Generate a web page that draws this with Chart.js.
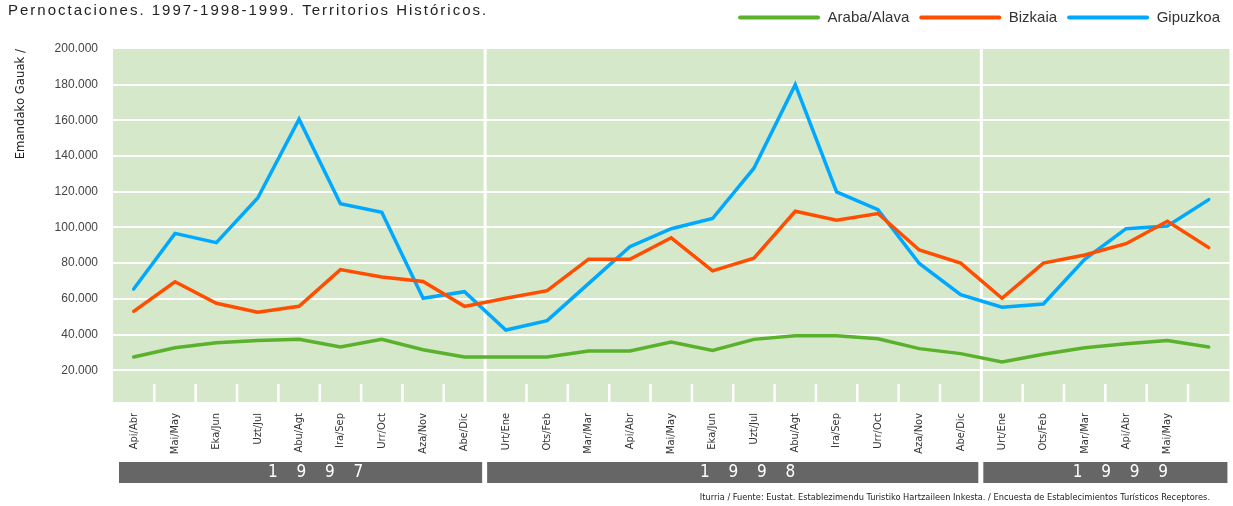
<!DOCTYPE html>
<html lang="es">
<head>
<meta charset="UTF-8">
<title>Pernoctaciones 1997-1998-1999</title>
<script src="https://cdn.jsdelivr.net/npm/chart.js@4.4.1/dist/chart.umd.min.js"></script>
<style>
  html, body { margin: 0; padding: 0; background: #fff; }
  #caja { width: 1233px; height: 506px; position: relative; }
</style>
</head>
<body>
<div id="caja"><canvas id="grafico"></canvas></div>
<script>
// datos
const categorias = [
  'Api/Abr', 'Mai/May', 'Eka/Jun', 'Uzt/Jul', 'Abu/Agt', 'Ira/Sep', 'Urr/Oct', 'Aza/Nov', 'Abe/Dic',
  'Urt/Ene', 'Ots/Feb', 'Mar/Mar', 'Api/Abr', 'Mai/May', 'Eka/Jun', 'Uzt/Jul', 'Abu/Agt', 'Ira/Sep', 'Urr/Oct', 'Aza/Nov', 'Abe/Dic',
  'Urt/Ene', 'Ots/Feb', 'Mar/Mar', 'Api/Abr', 'Mai/May', ''
];
const anos = ['1997', '1998', '1999'];
const mesesPorAno = [9, 12, 6];

const araba = [27400, 32600, 35400, 36700, 37400, 33000, 37400, 31500, 27400,
  27400, 27400, 30800, 30800, 35800, 31100, 37300, 39300, 39300, 37600, 32100, 29300,
  24600, 29000, 32600, 34800, 36700, 33000];
const bizkaia = [53000, 69600, 57500, 52500, 55800, 76400, 72300, 69700, 55800,
  60300, 64600, 82200, 82200, 94200, 75700, 82800, 109100, 104100, 107800, 87400, 80000,
  60300, 80000, 84600, 90900, 103500, 88700];
const gipuzkoa = [65500, 96700, 91500, 116500, 160700, 113300, 108500, 60300, 64000,
  42500, 47800, 68500, 89200, 99300, 105000, 133200, 180000, 119900, 110000, 79800, 62300,
  55300, 57100, 82200, 99300, 100800, 115600];

const ticksY = [20000, 40000, 60000, 80000, 100000, 120000, 140000, 160000, 180000, 200000];

const titulo = 'Pernoctaciones. 1997-1998-1999. Territorios Históricos.';
const tituloEje = 'Emandako Gauak /';
const fuente = 'Iturria / Fuente: Eustat. Establezimendu Turistiko Hartzaileen Inkesta. / Encuesta de Establecimientos Turísticos Receptores.';

const verde = '#5ab22c';
const naranja = '#ff4e00';
const azul = '#00a9ff';

const normal = "'Liberation Sans', Arial, sans-serif";
const estrecha = "'Liberation Sans Narrow', 'Arial Narrow', 'DejaVu Sans Condensed', sans-serif";

// indices donde termina cada año (menos el ultimo)
const finAno = [];
let acum = 0;
for (let i = 0; i < mesesPorAno.length - 1; i++) {
  acum += mesesPorAno[i];
  finAno.push(acum - 1);
}

const formato = v => String(v).replace(/\B(?=(\d{3})+(?!\d))/g, '.');

const decoracion = {
  id: 'decoracion',
  beforeLayout(chart) {
    const leyenda = chart.legend;
    if (leyenda && !leyenda._parcheado) {
      const fit = leyenda.fit;
      leyenda.fit = function () {
        fit.call(this);
        this.height += 14;
      };
      leyenda._parcheado = true;
    }
  },
  beforeDraw(chart) {
    const { ctx, chartArea: a } = chart;
    ctx.save();
    ctx.fillStyle = '#d5e8ca';
    ctx.fillRect(a.left, a.top, a.right - a.left, a.bottom - a.top);
    ctx.restore();
  },
  beforeDatasetsDraw(chart) {
    const { ctx, chartArea: a, scales: { x } } = chart;
    ctx.save();
    ctx.strokeStyle = '#ffffff';
    for (let i = 0; i < categorias.length - 1; i++) {
      const px = (x.getPixelForValue(i) + x.getPixelForValue(i + 1)) / 2;
      const esAno = finAno.includes(i);
      ctx.lineWidth = esAno ? 3 : 2.5;
      ctx.beginPath();
      ctx.moveTo(px, esAno ? a.top : a.bottom - 18);
      ctx.lineTo(px, a.bottom);
      ctx.stroke();
    }
    ctx.restore();
  },
  afterDraw(chart) {
    const { ctx, chartArea: a, scales: { x } } = chart;
    const limite = i => (x.getPixelForValue(i) + x.getPixelForValue(i + 1)) / 2;
    ctx.save();

    // titulo
    ctx.fillStyle = '#222';
    ctx.font = '15px ' + normal;
    ctx.letterSpacing = '2px';
    ctx.textAlign = 'left';
    ctx.textBaseline = 'alphabetic';
    ctx.fillText(titulo, 8, 15);
    ctx.letterSpacing = '0px';

    // barras de años
    let inicio = 0;
    for (let k = 0; k < anos.length; k++) {
      const fin = inicio + mesesPorAno[k] - 1;
      const izq = k === 0 ? a.left + 6 : limite(inicio - 1) + 2;
      const der = k === anos.length - 1 ? a.right - 2 : limite(fin) - 3;
      ctx.fillStyle = '#666666';
      ctx.fillRect(izq, 462, der - izq, 21);
      ctx.fillStyle = '#ffffff';
      ctx.font = '17px ' + estrecha;
      ctx.textAlign = 'center';
      ctx.textBaseline = 'middle';
      const centro = (izq + der) / 2 + 15;
      const letras = anos[k].split('');
      letras.forEach((c, j) => {
        ctx.fillText(c, centro + (j - (letras.length - 1) / 2) * 28.5, 473);
      });
      inicio = fin + 1;
    }

    // fuente
    ctx.fillStyle = '#222';
    ctx.font = '9.2px ' + estrecha;
    ctx.textAlign = 'right';
    ctx.textBaseline = 'middle';
    ctx.fillText(fuente, 1210, 498);
    ctx.restore();
  }
};

Chart.defaults.font.family = normal;

new Chart(document.getElementById('grafico'), {
  type: 'line',
  data: {
    labels: categorias,
    datasets: [
      { label: 'Araba/Alava', data: araba, borderColor: verde, backgroundColor: verde },
      { label: 'Bizkaia', data: bizkaia, borderColor: naranja, backgroundColor: naranja },
      { label: 'Gipuzkoa', data: gipuzkoa, borderColor: azul, backgroundColor: azul }
    ]
  },
  options: {
    responsive: true,
    maintainAspectRatio: false,
    animation: false,
    layout: { padding: { top: 0, right: 3, bottom: 0, left: 0 } },
    elements: {
      line: { borderWidth: 3.5, tension: 0, borderCapStyle: 'round', borderJoinStyle: 'miter' },
      point: { radius: 0, hoverRadius: 0 }
    },
    plugins: {
      tooltip: { enabled: false },
      legend: {
        position: 'top',
        align: 'end',
        labels: {
          boxWidth: 82,
          boxHeight: 4,
          padding: 10,
          color: '#333',
          font: { size: 15, family: normal },
          generateLabels(chart) {
            return Chart.defaults.plugins.legend.labels.generateLabels(chart)
              .map(it => Object.assign(it, { lineWidth: 0, borderRadius: 2 }));
          }
        }
      }
    },
    scales: {
      x: {
        offset: true,
        grid: { display: false, drawTicks: false },
        border: { display: false },
        ticks: {
          autoSkip: false,
          minRotation: 90,
          maxRotation: 90,
          padding: 11,
          color: '#333',
          font: { size: 11, family: estrecha }
        },
        afterFit(scale) { scale.height = 104; }
      },
      y: {
        min: 2200,
        max: 200000,
        afterBuildTicks(scale) { scale.ticks = ticksY.map(v => ({ value: v })); },
        grid: {
          drawTicks: false,
          lineWidth: 2,
          color: c => (c.tick && c.tick.value === 200000) ? 'rgba(0,0,0,0)' : '#ffffff'
        },
        border: { display: false },
        ticks: {
          padding: 15,
          color: '#444',
          font: { size: 12, family: normal },
          callback: v => formato(v)
        },
        title: {
          display: true,
          text: tituloEje,
          align: 'end',
          color: '#222',
          padding: { top: 13, bottom: 4 },
          font: { size: 13, family: estrecha }
        },
        afterFit(scale) { scale.width = 113; }
      }
    }
  },
  plugins: [decoracion]
});
</script>
</body>
</html>
